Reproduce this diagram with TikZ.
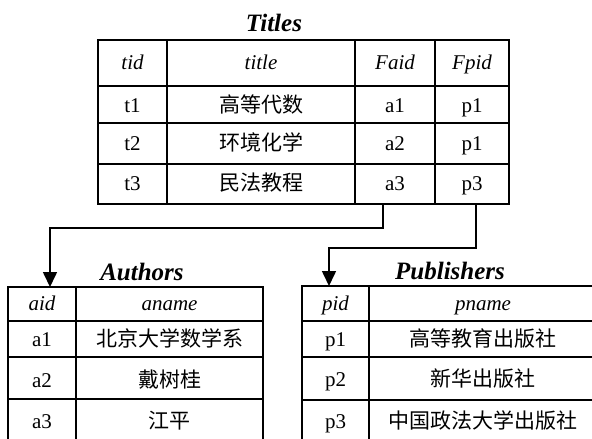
\documentclass[tikz,border=0pt]{standalone}
\usepackage{fontspec}
\setmainfont{Liberation Serif}
\newfontfamily\cjk{Noto Sans CJK SC}
\usetikzlibrary{arrows.meta}
\begin{document}
\begin{tikzpicture}[x=1pt,y=-1pt,
  grid/.style={line width=2.2pt,line cap=rect},
  cell/.style={anchor=base,inner sep=0pt,font=\fontsize{21}{25}\selectfont},
  hd/.style={anchor=base,inner sep=0pt,font=\fontsize{21}{25}\selectfont\itshape},
  ttl/.style={anchor=base,inner sep=0pt,font=\fontsize{25}{30}\selectfont\bfseries\itshape},
  link/.style={line width=1.6pt,-{Triangle[length=15pt,width=14pt]}}]
\useasboundingbox (0,0) rectangle (592,439);
\clip (0,0) rectangle (592,439);
% ---------- Titles ----------
\node[ttl] (tT) at (274,31) {Titles};
\draw[grid] (98,40) rectangle (509,204);
\foreach \y in {86,123,164} \draw[grid] (98,\y) -- (509,\y);
\foreach \x in {167,355,435} \draw[grid] (\x,40) -- (\x,204);
\node[hd] (th1) at (132.5,69) {tid};
\node[hd] (th2) at (261,69) {title};
\node[hd] (th3) at (395,69) {Faid};
\node[hd] (th4) at (472,69) {Fpid};
\node[cell] (t11) at (132.5,112) {t1};
\node[cell] (t12) at (261,112) {\cjk 高等代数};
\node[cell] (t13) at (395,112) {a1};
\node[cell] (t14) at (472,112) {p1};
\node[cell] (t21) at (132.5,150) {t2};
\node[cell] (t22) at (261,150) {\cjk 环境化学};
\node[cell] (t23) at (395,150) {a2};
\node[cell] (t24) at (472,150) {p1};
\node[cell] (t31) at (132.5,190) {t3};
\node[cell] (t32) at (261,190) {\cjk 民法教程};
\node[cell] (t33) at (395,190) {a3};
\node[cell] (t34) at (472,190) {p3};
% ---------- Authors ----------
\node[ttl] (aT) at (142,280) {Authors};
\draw[grid] (8,287) rectangle (263,443);
\foreach \y in {321,357,399} \draw[grid] (8,\y) -- (263,\y);
\draw[grid] (76,287) -- (76,443);
\node[hd] (ah1) at (42,310) {aid};
\node[hd] (ah2) at (169.5,310) {aname};
\node[cell] (a11) at (42,346) {a1};
\node[cell] (a12) at (169.5,346) {\cjk 北京大学数学系};
\node[cell] (a21) at (42,387) {a2};
\node[cell] (a22) at (169.5,387) {\cjk 戴树桂};
\node[cell] (a31) at (42,428) {a3};
\node[cell] (a32) at (169.5,428) {\cjk 江平};
% ---------- Publishers ----------
\node[ttl] (pT) at (450,279) {Publishers};
\draw[grid] (302,286) rectangle (598,443);
\foreach \y in {321,357,400} \draw[grid] (302,\y) -- (598,\y);
\draw[grid] (369,286) -- (369,443);
\node[hd] (ph1) at (335.5,310) {pid};
\node[hd] (ph2) at (483,310) {pname};
\node[cell] (p11) at (335.5,346) {p1};
\node[cell] (p12) at (483,346) {\cjk 高等教育出版社};
\node[cell] (p21) at (335.5,386) {p2};
\node[cell] (p22) at (483,386) {\cjk 新华出版社};
\node[cell] (p31) at (335.5,428) {p3};
\node[cell] (p32) at (483,428) {\cjk 中国政法大学出版社};
% ---------- connectors ----------
\coordinate (fa) at (383,205);
\coordinate (fp) at (476,205);
\coordinate (aa) at (50,287);
\coordinate (pp) at (329,286);
\draw[link] (fa) -- ++(0,23) -| (aa);
\draw[link] (fp) -- ++(0,43) -| (pp);
\end{tikzpicture}
\end{document}
